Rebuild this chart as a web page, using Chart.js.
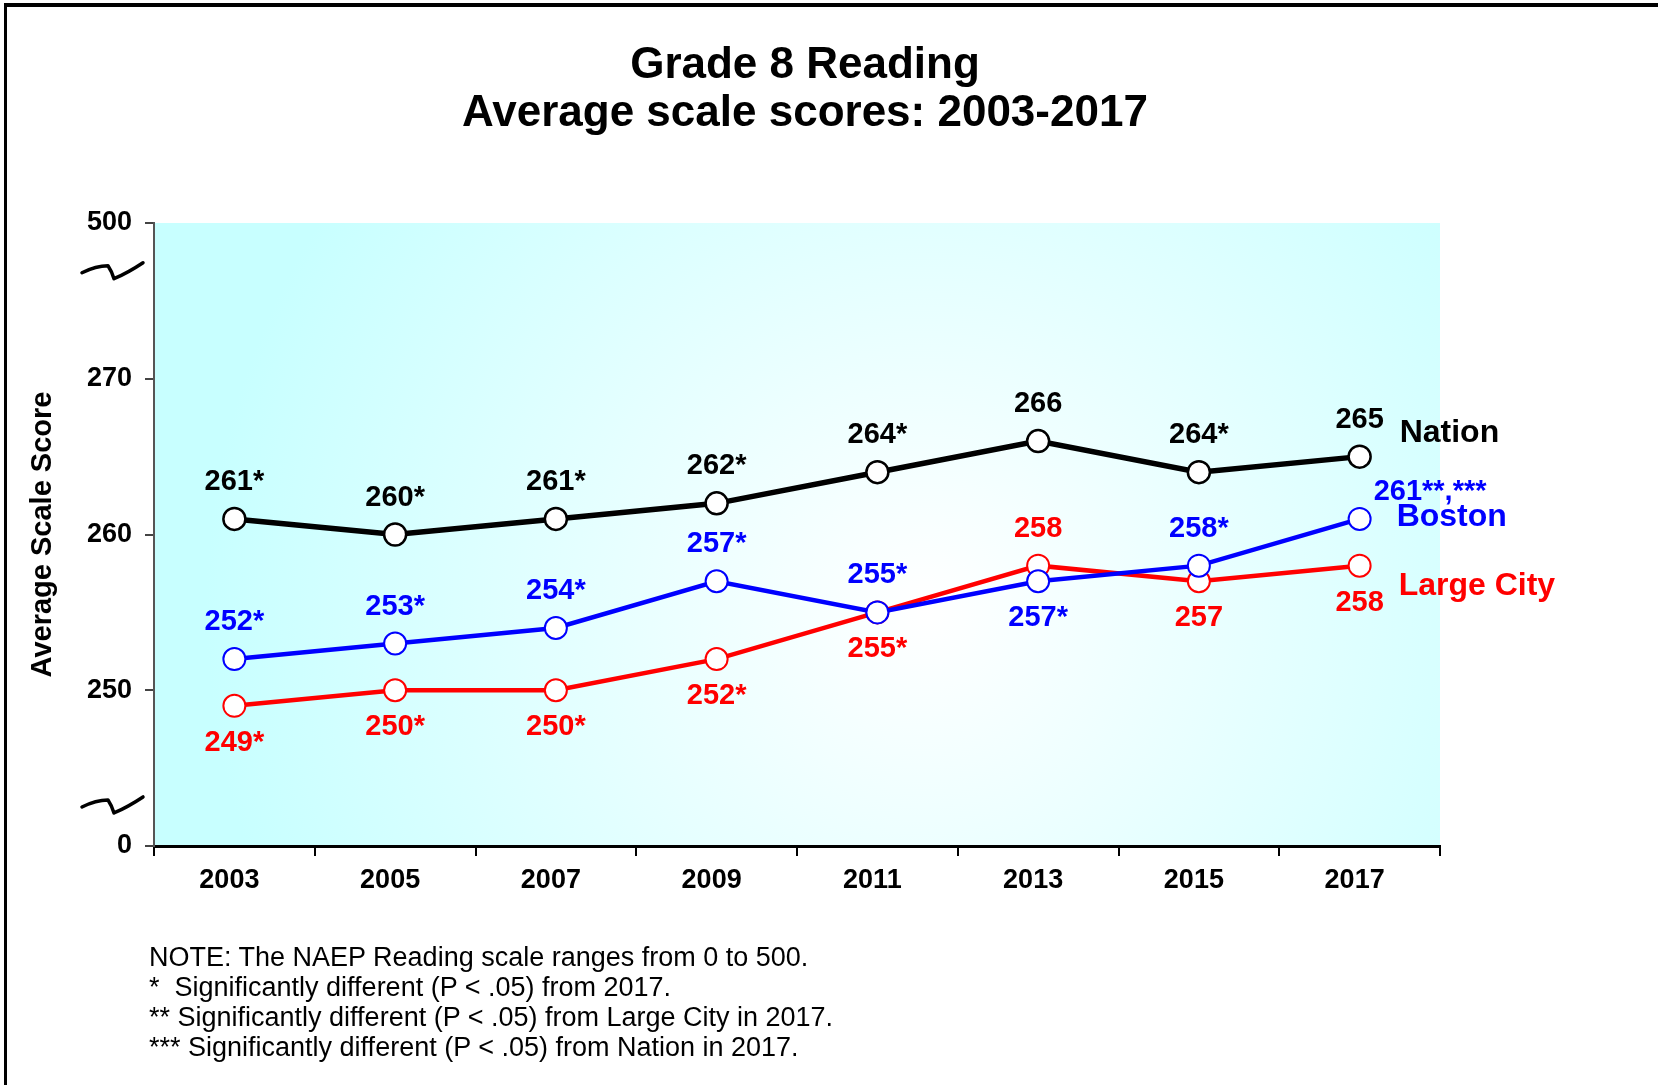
<!DOCTYPE html>
<html>
<head>
<meta charset="utf-8">
<script src="https://cdn.jsdelivr.net/npm/chart.js@4.4.0/dist/chart.umd.min.js"></script>
<style>
body { margin: 0; background: #fff; }
#wrap { position: relative; width: 1658px; height: 1085px; overflow: hidden; font-family: "Liberation Sans", Arial, sans-serif; }
#frame { position: absolute; left: 4px; top: 3px; right: -10px; bottom: -10px; border-top: 4px solid #000; border-left: 3px solid #000; }
#title { position: absolute; left: 0; width: 1610px; top: 39px; text-align: center; font-weight: bold; font-size: 44px; line-height: 48px; }
#notes { position: absolute; left: 149px; top: 942px; font-size: 27px; line-height: 30px; white-space: pre; }
#chart { position: absolute; left: 0; top: 0; }
</style>
</head>
<body>
<div id="wrap">
  <div id="frame"></div>
  <canvas id="chart" width="1658" height="1085"></canvas>
  <div id="title">Grade 8 Reading<br>Average scale scores: 2003-2017</div>
  <div id="notes">NOTE: The NAEP Reading scale ranges from 0 to 500.
*  Significantly different (P &lt; .05) from 2017.
** Significantly different (P &lt; .05) from Large City in 2017.
*** Significantly different (P &lt; .05) from Nation in 2017.</div>
</div>
<script>
const years = ['2003', '2005', '2007', '2009', '2011', '2013', '2015', '2017'];
const nation = [261, 260, 261, 262, 264, 266, 264, 265];
const boston = [252, 253, 254, 257, 255, 257, 258, 261];
const largeCity = [249, 250, 250, 252, 255, 258, 257, 258];
const nationText = ['261*', '260*', '261*', '262*', '264*', '266', '264*', '265'];
const bostonText = ['252*', '253*', '254*', '257*', '255*', '257*', '258*', '261**,***'];
const largeCityText = ['249*', '250*', '250*', '252*', '255*', '258', '257', '258'];
// broken axis: the bottom and top ticks stand for 0 and 500
const yTickValues = [240, 250, 260, 270, 280];
const yTickLabels = ['0', '250', '260', '270', '500'];

const FONT = '"Liberation Sans", Arial, sans-serif';

const bgPlugin = {
    id: 'plotBg',
    beforeDraw(chart) {
        const a = chart.chartArea;
        const ctx = chart.ctx;
        const cx = a.left + (a.right - a.left) * 0.6;
        const cy = a.top + (a.bottom - a.top) * 0.62;
        const g = ctx.createRadialGradient(cx, cy, 0, cx, cy, 720);
        g.addColorStop(0, '#ffffff');
        g.addColorStop(1, '#c8ffff');
        ctx.save();
        ctx.fillStyle = g;
        ctx.fillRect(a.left, a.top, a.right - a.left, a.bottom - a.top);
        ctx.restore();
    }
};

const labelPlugin = {
    id: 'pointText',
    afterDatasetsDraw(chart) {
        const ctx = chart.ctx;
        chart.data.datasets.forEach((ds, i) => {
            const meta = chart.getDatasetMeta(i);
            ctx.save();
            ctx.fillStyle = ds.borderColor;
            ctx.textBaseline = 'middle';
            ctx.font = 'bold 29px ' + FONT;
            meta.data.forEach((pt, j) => {
                let x = pt.x, y = pt.y;
                const place = ds.place[j];
                ctx.textAlign = 'center';
                if (place === 'up') y -= 37;
                else if (place === 'down') y += 37;
                else { ctx.textAlign = 'left'; x += 14; y -= 27; }
                ctx.fillText(ds.pointText[j], x, y);
            });
            const last = meta.data[meta.data.length - 1];
            ctx.font = 'bold 32px ' + FONT;
            ctx.textAlign = 'left';
            ctx.fillText(ds.label, last.x + ds.nameDx, last.y + ds.nameDy);
            ctx.restore();
        });
    }
};

const breakPlugin = {
    id: 'axisBreaks',
    afterDraw(chart) {
        const ctx = chart.ctx;
        const ys = chart.scales.y;
        const x0 = ys.right - 72;
        [277, 242.7].forEach(v => {
            const y = ys.getPixelForValue(v);
            ctx.save();
            ctx.strokeStyle = '#000';
            ctx.lineWidth = 3.5;
            ctx.lineJoin = 'round';
            ctx.lineCap = 'round';
            ctx.beginPath();
            ctx.moveTo(x0, y + 3);
            ctx.quadraticCurveTo(x0 + 14, y - 4, x0 + 26, y - 4);
            ctx.quadraticCurveTo(x0 + 30, y + 2, x0 + 32, y + 9);
            ctx.quadraticCurveTo(x0 + 46, y + 3, x0 + 61, y - 7);
            ctx.stroke();
            ctx.restore();
        });
    }
};

new Chart(document.getElementById('chart'), {
    type: 'line',
    data: {
        labels: years,
        datasets: [{
            label: 'Nation',
            data: nation,
            pointText: nationText,
            place: ['up', 'up', 'up', 'up', 'up', 'up', 'up', 'up'],
            nameDx: 40, nameDy: -23,
            borderColor: '#000000',
            borderWidth: 5.5,
            pointBackgroundColor: '#ffffff',
            pointBorderColor: '#000000',
            pointBorderWidth: 2.5,
            pointRadius: 11
        }, {
            label: 'Boston',
            data: boston,
            pointText: bostonText,
            place: ['up', 'up', 'up', 'up', 'up', 'down', 'up', 'right'],
            nameDx: 37, nameDy: -2,
            borderColor: '#0000ff',
            borderWidth: 4.5,
            pointBackgroundColor: '#ffffff',
            pointBorderColor: '#0000ff',
            pointBorderWidth: 2,
            pointRadius: 11
        }, {
            label: 'Large City',
            data: largeCity,
            pointText: largeCityText,
            place: ['down', 'down', 'down', 'down', 'down', 'up', 'down', 'down'],
            nameDx: 39, nameDy: 21,
            borderColor: '#ff0000',
            borderWidth: 4.5,
            pointBackgroundColor: '#ffffff',
            pointBorderColor: '#ff0000',
            pointBorderWidth: 2,
            pointRadius: 11
        }]
    },
    options: {
        responsive: false,
        animation: false,
        layout: { padding: { top: 223, right: 218, bottom: 139, left: 0 } },
        plugins: {
            legend: { display: false },
            tooltip: { enabled: false }
        },
        scales: {
            x: {
                offset: true,
                afterFit: s => { s.height = 100; },
                grid: { drawOnChartArea: false, offset: true, tickLength: 10, color: '#000', lineWidth: 2 },
                border: { color: '#000', width: 3 },
                ticks: { color: '#000', padding: 8, labelOffset: -5, font: { family: FONT, size: 27, weight: 'bold' } }
            },
            y: {
                min: 240,
                max: 280,
                afterFit: s => { s.width = 154; },
                afterBuildTicks: s => { s.ticks = yTickValues.map(v => ({ value: v })); },
                grid: { drawOnChartArea: false, tickLength: 9, color: '#444', lineWidth: 2 },
                border: { color: '#555', width: 2 },
                ticks: {
                    color: '#000',
                    padding: 13,
                    font: { family: FONT, size: 27, weight: 'bold' },
                    callback: v => yTickLabels[yTickValues.indexOf(v)]
                },
                title: {
                    display: true,
                    text: 'Average Scale Score',
                    color: '#000',
                    padding: { top: 26, bottom: 0 },
                    font: { family: FONT, size: 29, weight: 'bold' }
                }
            }
        }
    },
    plugins: [bgPlugin, labelPlugin, breakPlugin]
});
</script>
</body>
</html>
